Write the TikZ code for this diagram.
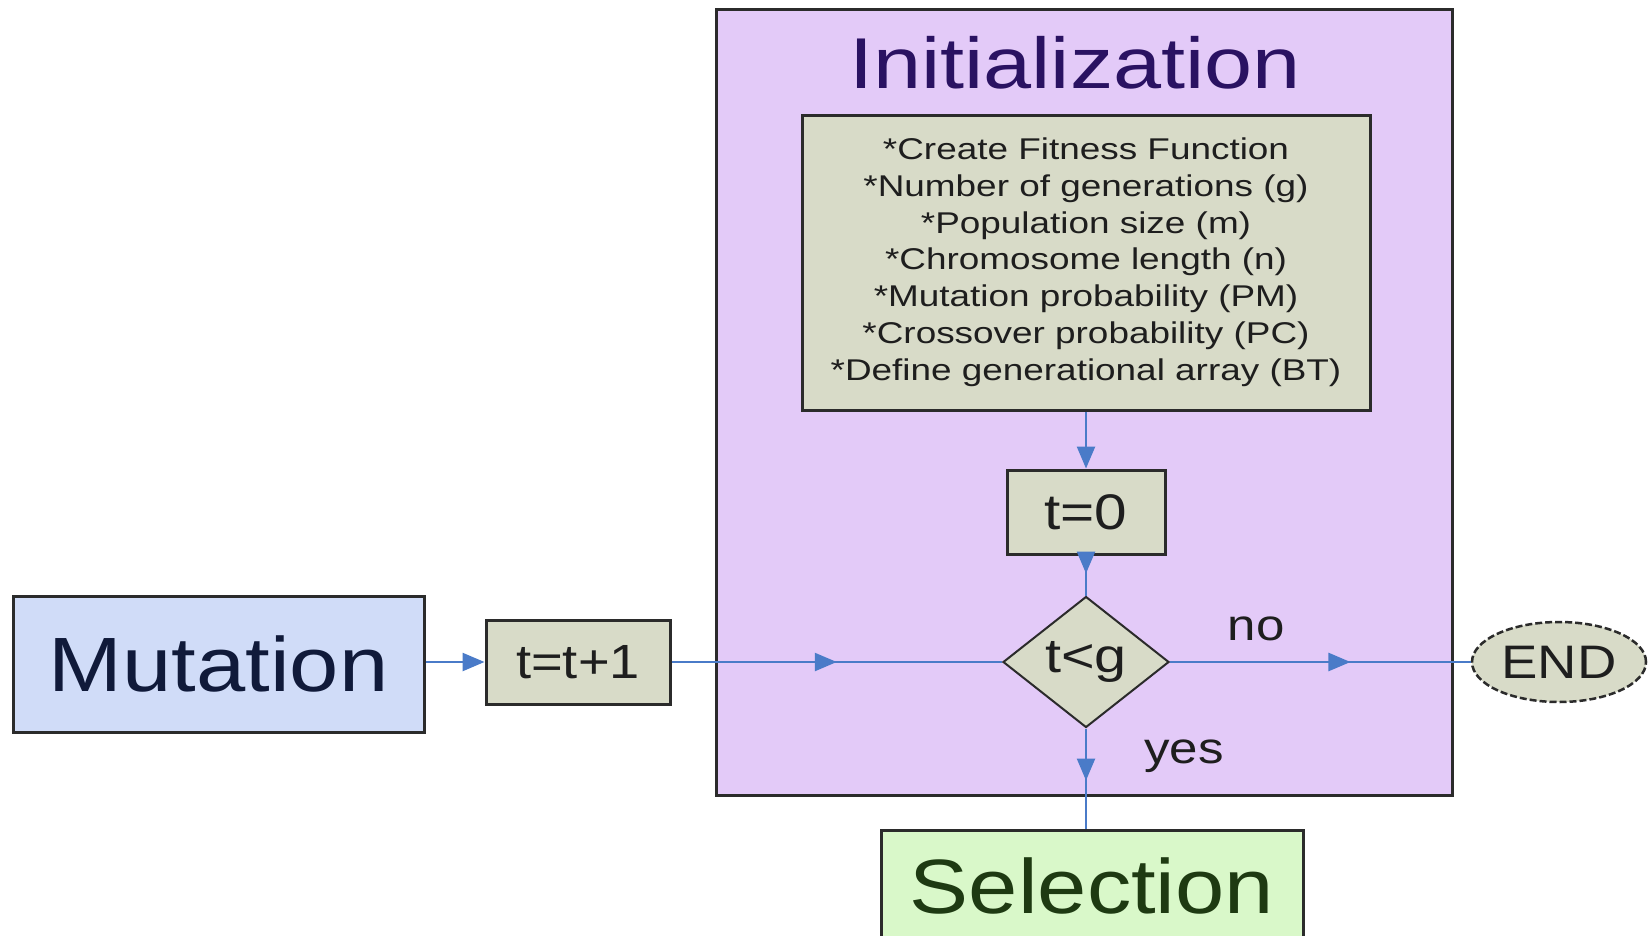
\documentclass[tikz,border=0pt]{standalone}
\usepackage{fontspec}
\setmainfont{Liberation Sans}
\usepackage{graphicx}
\usetikzlibrary{arrows.meta,shapes.geometric,decorations.markings}

\definecolor{lavender}{HTML}{E3CAF8}
\definecolor{sage}{HTML}{D8DBC8}
\definecolor{periwinkle}{HTML}{D0DCF8}
\definecolor{mint}{HTML}{D9F8C9}
\definecolor{flowblue}{HTML}{4A7BC8}
\definecolor{indigo}{HTML}{2A1262}
\definecolor{navy}{HTML}{101A3A}
\definecolor{forest}{HTML}{1E3A12}
\definecolor{edgegray}{HTML}{2B2B2B}
\definecolor{inkgray}{HTML}{1E1E1E}

% horizontally widened text
\newcommand\stretched[2][1.18]{\scalebox{#1}[1]{#2}}

\begin{document}
\begin{tikzpicture}[x=1pt,y=-1pt,
  box/.style={draw=edgegray, line width=3pt, rectangle, inner sep=0pt},
  flow/.style={draw=flowblue, line width=2.5pt},
  tipend/.style={-{Triangle[length=22pt,width=18pt]}},
  midarrow/.style={postaction={decorate},
    decoration={markings, mark=at position #1 with {\arrow[flowblue]{Triangle[length=22pt,width=18pt]}}}},
  lbl/.style={text=inkgray, font=\fontsize{44}{44}\selectfont},
]
\clip (0,0) rectangle (1648,935);
\fill[white] (0,0) rectangle (1648,935);

% initialization block
\node[box, fill=lavender, minimum width=736pt, minimum height=786pt, anchor=north west] (init) at (715,8) {};
\node[text=indigo, font=\fontsize{72}{72}\selectfont] (title) at (1075,63) {\stretched[1.2]{Initialization}};

\node[box, fill=sage, minimum width=568pt, minimum height=295pt, text=inkgray] (params) at (1086,262.5)
  {\fontsize{30}{36.8}\selectfont\stretched[1.23]{\begin{tabular}{@{}c@{}}
   {}*Create Fitness Function\\
   {}*Number of generations (g)\\
   {}*Population size (m)\\
   {}*Chromosome length (n)\\
   {}*Mutation probability (PM)\\
   {}*Crossover probability (PC)\\
   {}*Define generational array (BT)
   \end{tabular}}};

\node[box, fill=sage, minimum width=158pt, minimum height=84pt, text=inkgray,
      font=\fontsize{50}{50}\selectfont] (t0) at (1086,512) {\stretched[1.17]{t=0}};

\node[diamond, draw=edgegray, line width=2pt, fill=sage, minimum width=166pt, minimum height=131pt,
      inner sep=0pt, text=inkgray, font=\fontsize{48}{48}\selectfont] (cond) at (1086,662) {\stretched[1.2]{t<g}};

\node[ellipse, draw=edgegray, dash pattern=on 7pt off 3pt, line width=2.5pt, fill=sage,
      minimum width=174pt, minimum height=80pt, inner sep=0pt, text=inkgray,
      font=\fontsize{47}{47}\selectfont] (finish) at (1559,662) {\stretched[1.16]{END}};

\node[box, fill=sage, minimum width=184pt, minimum height=84pt, text=inkgray,
      font=\fontsize{48}{48}\selectfont] (incr) at (578,662) {\stretched[1.13]{t=t+1}};

\node[box, fill=periwinkle, minimum width=411pt, minimum height=136pt, text=navy,
      font=\fontsize{77}{77}\selectfont] (mut) at (218.5,664) {\stretched[1.15]{Mutation}};

\node[box, fill=mint, minimum width=422pt, minimum height=112pt, text=forest,
      font=\fontsize{77}{77}\selectfont] (sel) at (1092,886) {\stretched[1.15]{Selection}};

% connectors
\draw[flow, tipend] (params.south) -- (t0.north);
\draw[flow, midarrow=0.45] (t0.south) -- (cond.north);
\draw[flow, midarrow=0.52] (cond.south) -- (sel.north -| cond.south);
\draw[flow, tipend] (mut.east |- incr.west) -- (incr.west);
\draw[flow, midarrow=0.5] (incr.east) -- (cond.west);
\draw[flow, midarrow=0.6] (cond.east) -- (finish.west);

% branch labels
\node[lbl] (nolbl) at (1256,629) {\stretched[1.16]{no}};
\node[lbl] (yeslbl) at (1184,756) {\stretched[1.16]{yes}};
\end{tikzpicture}
\end{document}
